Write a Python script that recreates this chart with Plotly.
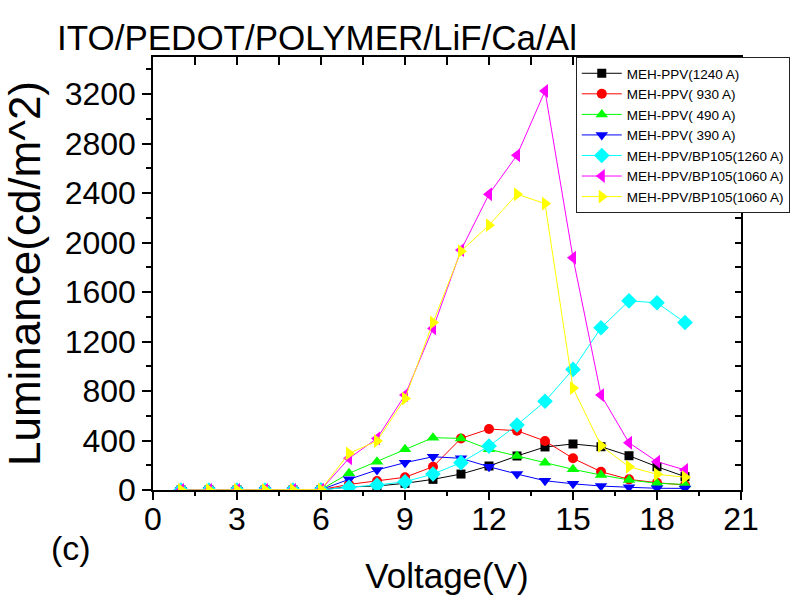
import plotly.graph_objects as go

# Drive voltage (V)
voltage = list(range(1, 20))

# Luminance (cd/m^2) for each device
meh_1240 = [0, 0, 0, 0, 0, 2, 25, 32, 54, 86, 129, 194, 275, 348, 372, 350, 277, 188, 108]
meh_930 = [0, 0, 0, 0, 0, 3, 45, 73, 103, 188, 417, 493, 479, 396, 256, 148, 86, 59, 40]
meh_490 = [0, 0, 0, 0, 0, 4, 135, 229, 329, 423, 417, 329, 275, 221, 167, 121, 81, 54, 45]
meh_390 = [0, 0, 0, 0, 0, 3, 86, 162, 221, 269, 256, 188, 129, 75, 50, 32, 22, 14, 13]
bp_1260 = [0, 0, 0, 0, 0, 2, 22, 40, 67, 129, 221, 355, 525, 717, 975, 1311, 1529, 1513, 1354]
bp_1060a = [0, 0, 0, 0, 0, 3, 256, 417, 767, 1306, 1939, 2391, 2706, 3225, 1877, 767, 382, 229, 162]
bp_1060b = [0, 0, 0, 0, 0, 3, 296, 396, 740, 1354, 1930, 2141, 2391, 2315, 824, 358, 188, 127, 103]

names = [
    "MEH-PPV(1240 A)",
    "MEH-PPV( 930 A)",
    "MEH-PPV( 490 A)",
    "MEH-PPV( 390 A)",
    "MEH-PPV/BP105(1260 A)",
    "MEH-PPV/BP105(1060 A)",
    "MEH-PPV/BP105(1060 A)",
]
series = [meh_1240, meh_930, meh_490, meh_390, bp_1260, bp_1060a, bp_1060b]
colors = ["#000000", "#ff0000", "#00ff00", "#0000ff", "#00ffff", "#ff00ff", "#ffff00"]
symbols = ["square", "circle", "triangle-up", "triangle-down", "diamond", "triangle-left", "triangle-right"]
sizes = [9, 10, 11, 11, 12, 12, 12]

FONT = "Liberation Sans, Arial, sans-serif"

fig = go.Figure()
for name, ys, c, s, sz in zip(names, series, colors, symbols, sizes):
    fig.add_trace(go.Scatter(
        x=voltage, y=ys, name=name, mode="lines+markers",
        line=dict(color=c, width=1),
        marker=dict(symbol=s, size=sz, color=c, line=dict(width=0)),
    ))

# invisible trace carrying the mirrored top / right axes
fig.add_trace(go.Scatter(x=[None], y=[None], xaxis="x2", yaxis="y2",
                         showlegend=False, hoverinfo="skip"))

axis_common = dict(showgrid=False, zeroline=False, showline=True,
                   linecolor="black", linewidth=1.5, automargin=False)

fig.update_layout(
    width=802, height=597,
    margin=dict(l=153, r=59, t=57, b=107),
    paper_bgcolor="white", plot_bgcolor="white",
    font=dict(family=FONT, color="black"),
    showlegend=True,
    title=dict(text="ITO/PEDOT/POLYMER/LiF/Ca/Al", font=dict(size=35, family=FONT),
               xref="container", x=57 / 802, xanchor="left",
               yref="container", y=1 - 38 / 597, yanchor="middle"),
    xaxis=dict(
        range=[0, 21], tickmode="linear", tick0=0, dtick=3,
        ticks="outside", ticklen=8, tickwidth=1.5, tickcolor="black",
        minor=dict(dtick=1.5, ticks="outside", ticklen=4, tickwidth=1.5, tickcolor="black"),
        tickfont=dict(size=32, family=FONT), ticklabelstandoff=-8,
        title=dict(text="Voltage(V)", font=dict(size=35, family=FONT), standoff=27),
        **axis_common,
    ),
    yaxis=dict(
        range=[0, 3500], tickmode="linear", tick0=0, dtick=400,
        ticks="outside", ticklen=9, tickwidth=1.5, tickcolor="black",
        minor=dict(dtick=200, ticks="outside", ticklen=5, tickwidth=1.5, tickcolor="black"),
        tickfont=dict(size=32, family=FONT),
        title=dict(text="Luminance(cd/m^2)", font=dict(size=44, family=FONT), standoff=12),
        **axis_common,
    ),
    xaxis2=dict(
        overlaying="x", side="top", range=[0, 21], tickmode="linear", tick0=0, dtick=1.5,
        ticks="inside", ticklen=8, tickwidth=1.5, tickcolor="black",
        showticklabels=False, **axis_common,
    ),
    yaxis2=dict(
        overlaying="y", side="right", range=[0, 3500], tickmode="linear", tick0=0, dtick=200,
        ticks="inside", ticklen=6, tickwidth=1.5, tickcolor="black",
        showticklabels=False, **axis_common,
    ),
    legend=dict(
        x=0.719, y=1.0, xanchor="left", yanchor="top",
        bgcolor="white", bordercolor="#222222", borderwidth=1,
        font=dict(size=13.5, family=FONT), itemwidth=40,
    ),
    annotations=[dict(text="(c)", xref="paper", yref="paper",
                      x=-0.14, y=-0.135, xanchor="center", yanchor="middle",
                      showarrow=False, font=dict(size=34, family=FONT))],
)

fig.write_html("out.html")
